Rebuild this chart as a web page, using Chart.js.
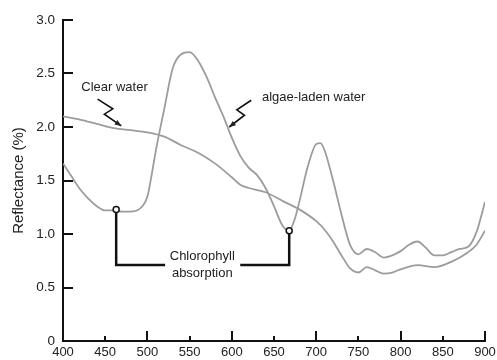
<!DOCTYPE html>
<html>
<head>
<meta charset="utf-8">
<script src="https://cdn.jsdelivr.net/npm/chart.js@4.4.0/dist/chart.umd.min.js"></script>
<style>
  html, body { margin: 0; padding: 0; background: #fff; }
  #wrap { width: 497px; height: 360px; }
</style>
</head>
<body>
<div id="wrap"><canvas id="chart" width="497" height="360"></canvas></div>
<script>
// wavelengths (nm) and reflectance (%)
var algae_nm = [400, 410, 420, 430, 440, 450, 460, 470, 480, 490, 500, 505, 510, 520, 530, 540, 550, 560, 570, 580, 590, 600, 610, 620, 630, 640, 650, 660, 668, 675, 680, 690, 700, 705, 710, 720, 730, 740, 750, 760, 770, 780, 790, 800, 810, 820, 830, 840, 850, 860, 870, 880, 890, 900];
var algae_values = [1.66, 1.54, 1.42, 1.33, 1.26, 1.22, 1.22, 1.21, 1.21, 1.23, 1.35, 1.55, 1.78, 2.17, 2.55, 2.68, 2.70, 2.62, 2.47, 2.28, 2.10, 1.90, 1.73, 1.62, 1.55, 1.43, 1.26, 1.08, 1.03, 1.15, 1.30, 1.63, 1.84, 1.85, 1.78, 1.50, 1.18, 0.90, 0.81, 0.86, 0.83, 0.78, 0.80, 0.84, 0.90, 0.93, 0.87, 0.80, 0.80, 0.83, 0.86, 0.88, 1.02, 1.30];

var clear_nm = [400, 420, 440, 460, 480, 500, 520, 540, 560, 580, 600, 610, 620, 640, 660, 680, 700, 710, 720, 730, 740, 750, 760, 770, 780, 790, 800, 820, 840, 860, 880, 890, 900];
var clear_values = [2.10, 2.07, 2.03, 1.99, 1.97, 1.95, 1.91, 1.83, 1.76, 1.66, 1.53, 1.46, 1.43, 1.39, 1.31, 1.23, 1.12, 1.04, 0.93, 0.80, 0.68, 0.64, 0.69, 0.66, 0.63, 0.64, 0.67, 0.71, 0.69, 0.74, 0.83, 0.90, 1.03];

var x_ticks = [400, 450, 500, 550, 600, 650, 700, 750, 800, 850, 900];
var y_ticks = [0, 0.5, 1.0, 1.5, 2.0, 2.5, 3.0];

// chlorophyll absorption points
var chl_nm = [463, 668];
var chl_values = [1.23, 1.03];

var FONT = '"Liberation Sans", Arial, Helvetica, sans-serif';
var LINE_GREY = '#9c9c9c';

function toPoints(xs, ys) {
    return xs.map((x, i) => ({ x: x, y: ys[i] }));
}

// ticks drawn inward, longer on the hundreds
var tickPlugin = {
    id: 'innerTicks',
    afterDraw(chart) {
        const ctx = chart.ctx;
        const xs = chart.scales.x, ys = chart.scales.y;
        const area = chart.chartArea;
        ctx.save();
        ctx.strokeStyle = '#111';
        ctx.lineWidth = 2;
        x_ticks.forEach(v => {
            if (v === 400) return;
            const px = Math.round(xs.getPixelForValue(v));
            const len = v % 100 === 0 ? 10 : 5;
            ctx.beginPath();
            ctx.moveTo(px, area.bottom);
            ctx.lineTo(px, area.bottom - len);
            ctx.stroke();
        });
        y_ticks.forEach(v => {
            if (v === 0) return;
            const py = Math.round(ys.getPixelForValue(v));
            ctx.beginPath();
            ctx.moveTo(area.left, py);
            ctx.lineTo(area.left + 10, py);
            ctx.stroke();
        });
        ctx.restore();
    }
};

function zigzag(ctx, pts) {
    ctx.beginPath();
    ctx.moveTo(pts[0][0], pts[0][1]);
    for (let i = 1; i < pts.length; i++) ctx.lineTo(pts[i][0], pts[i][1]);
    ctx.stroke();
    // arrow head
    const a = pts[pts.length - 2], b = pts[pts.length - 1];
    const ang = Math.atan2(b[1] - a[1], b[0] - a[0]);
    ctx.beginPath();
    ctx.moveTo(b[0], b[1]);
    ctx.lineTo(b[0] - 7 * Math.cos(ang - 0.4), b[1] - 7 * Math.sin(ang - 0.4));
    ctx.lineTo(b[0] - 7 * Math.cos(ang + 0.4), b[1] - 7 * Math.sin(ang + 0.4));
    ctx.closePath();
    ctx.fill();
}

var notePlugin = {
    id: 'notes',
    afterDatasetsDraw(chart) {
        const ctx = chart.ctx;
        const xs = chart.scales.x, ys = chart.scales.y;
        const X = v => xs.getPixelForValue(v);
        const Y = v => ys.getPixelForValue(v);
        ctx.save();
        ctx.fillStyle = '#222';
        ctx.strokeStyle = '#111';
        ctx.font = '13px ' + FONT;
        ctx.textAlign = 'center';
        ctx.textBaseline = 'middle';

        // labels
        ctx.fillText('Clear water', X(461), Y(2.37));
        ctx.fillText('algae-laden water', X(697), Y(2.28));
        ctx.fillText('Chlorophyll', X(565), Y(0.79));
        ctx.fillText('absorption', X(565), Y(0.63));

        // lightning arrows
        ctx.lineWidth = 1.6;
        zigzag(ctx, [[X(441), Y(2.26)], [X(459), Y(2.17)], [X(449), Y(2.12)], [X(469), Y(2.01)]]);
        zigzag(ctx, [[X(623), Y(2.25)], [X(606), Y(2.16)], [X(615), Y(2.11)], [X(597), Y(2.0)]]);

        // bracket
        const low = 0.71;
        ctx.lineWidth = 2.5;
        ctx.beginPath();
        ctx.moveTo(X(chl_nm[0]), Y(chl_values[0]));
        ctx.lineTo(X(chl_nm[0]), Y(low));
        ctx.lineTo(X(521), Y(low));
        ctx.moveTo(X(610), Y(low));
        ctx.lineTo(X(chl_nm[1]), Y(low));
        ctx.lineTo(X(chl_nm[1]), Y(chl_values[1]));
        ctx.stroke();

        // open circles
        ctx.lineWidth = 1.5;
        ctx.fillStyle = '#fff';
        chl_nm.forEach((v, i) => {
            ctx.beginPath();
            ctx.arc(X(v), Y(chl_values[i]), 3, 0, Math.PI * 2);
            ctx.fill();
            ctx.stroke();
        });
        ctx.restore();
    }
};

var ctx = document.getElementById('chart').getContext('2d');
new Chart(ctx, {
    type: 'line',
    data: {
        datasets: [{
            label: 'algae-laden water',
            data: toPoints(algae_nm, algae_values),
            borderColor: LINE_GREY,
            borderWidth: 1.8,
            pointRadius: 0,
            cubicInterpolationMode: 'monotone',
            fill: false
        }, {
            label: 'Clear water',
            data: toPoints(clear_nm, clear_values),
            borderColor: LINE_GREY,
            borderWidth: 1.8,
            pointRadius: 0,
            cubicInterpolationMode: 'monotone',
            fill: false
        }]
    },
    options: {
        responsive: false,
        animation: false,
        layout: { padding: { top: 20, right: 12, left: 0, bottom: 0 } },
        plugins: {
            legend: { display: false },
            tooltip: { enabled: false }
        },
        scales: {
            x: {
                type: 'linear',
                min: 400,
                max: 900,
                afterBuildTicks: axis => { axis.ticks = x_ticks.map(v => ({ value: v })); },
                afterFit: axis => {
                    axis.height = 19;
                    axis.paddingLeft = 0;
                    axis.paddingRight = 0;
                },
                grid: { display: false, drawTicks: false },
                border: { display: true, color: '#111', width: 2 },
                ticks: {
                    padding: 4,
                    color: '#222',
                    font: { family: FONT, size: 13 },
                    maxRotation: 0,
                    autoSkip: false
                }
            },
            y: {
                type: 'linear',
                min: 0,
                max: 3,
                afterBuildTicks: axis => { axis.ticks = y_ticks.map(v => ({ value: v })); },
                afterFit: axis => { axis.width = 63; },
                grid: { display: false, drawTicks: false },
                border: { display: true, color: '#111', width: 2 },
                title: {
                    display: true,
                    text: 'Reflectance (%)',
                    color: '#222',
                    font: { family: FONT, size: 15 },
                    padding: { top: 10, bottom: 0 }
                },
                ticks: {
                    padding: 8,
                    color: '#222',
                    font: { family: FONT, size: 13.5 },
                    callback: v => v === 0 ? '0' : v.toFixed(1)
                }
            }
        }
    },
    plugins: [tickPlugin, notePlugin]
});
</script>
</body>
</html>
